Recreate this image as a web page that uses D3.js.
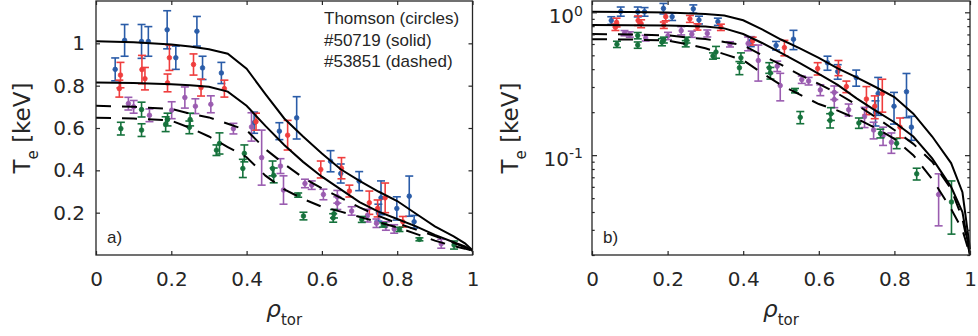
<!DOCTYPE html>
<html>
<head>
<meta charset="utf-8">
<script src="https://cdn.jsdelivr.net/npm/d3@7"></script>
<style>
body { margin: 0; background: #fff; }
text { fill: #262626; }
</style>
</head>
<body>
<script>
/*** THOMSON DATA (rho_tor, Te [keV], error) ***/
const rhoBlue = [0.051, 0.076, 0.121, 0.139, 0.189, 0.212, 0.268, 0.283, 0.333, 0.42, 0.487, 0.533, 0.623, 0.65, 0.699, 0.757, 0.75, 0.799, 0.832, 0.845];
const teBlue  = [0.877, 1.014, 1.009, 1.009, 1.064, 0.932, 1.057, 0.884, 0.86, 0.625, 0.585, 0.648, 0.443, 0.385, 0.349, 0.27, 0.2, 0.22, 0.278, 0.157];
const errBlue = [0.054, 0.075, 0.08, 0.07, 0.09, 0.055, 0.07, 0.055, 0.05, 0.05, 0.04, 0.1, 0.05, 0.045, 0.045, 0.08, 0.04, 0.055, 0.095, 0.03];

const rhoRed = [0.065, 0.062, 0.122, 0.13, 0.195, 0.19, 0.259, 0.279, 0.341, 0.425, 0.509, 0.597, 0.652, 0.673, 0.726, 0.748, 0.768, 0.815];
const teRed  = [0.85, 0.786, 0.876, 0.833, 0.932, 0.813, 0.9, 0.791, 0.786, 0.63, 0.566, 0.404, 0.41, 0.302, 0.247, 0.22, 0.27, 0.157];
const errRed = [0.06, 0.04, 0.067, 0.053, 0.06, 0.042, 0.05, 0.04, 0.04, 0.04, 0.07, 0.04, 0.05, 0.028, 0.055, 0.04, 0.07, 0.025];

const rhoPurple = [0.086, 0.1, 0.142, 0.201, 0.236, 0.264, 0.305, 0.365, 0.413, 0.44, 0.49, 0.498, 0.555, 0.573, 0.604, 0.641, 0.641, 0.679, 0.721, 0.745, 0.77, 0.792, 0.917];
const tePurple  = [0.715, 0.70, 0.66, 0.684, 0.744, 0.703, 0.712, 0.597, 0.605, 0.46, 0.42, 0.307, 0.338, 0.33, 0.286, 0.275, 0.245, 0.208, 0.186, 0.15, 0.137, 0.123, 0.053];
const errPurple = [0.03, 0.03, 0.03, 0.04, 0.05, 0.035, 0.04, 0.025, 0.067, 0.13, 0.035, 0.067, 0.02, 0.02, 0.025, 0.03, 0.03, 0.02, 0.03, 0.02, 0.02, 0.02, 0.021];

const rhoGreen = [0.066, 0.121, 0.121, 0.185, 0.19, 0.25, 0.248, 0.328, 0.32, 0.394, 0.39, 0.469, 0.472, 0.537, 0.551, 0.632, 0.63, 0.706, 0.763, 0.806, 0.859, 0.951];
const teGreen  = [0.597, 0.59, 0.687, 0.618, 0.64, 0.64, 0.603, 0.527, 0.495, 0.48, 0.409, 0.409, 0.376, 0.283, 0.184, 0.195, 0.175, 0.168, 0.142, 0.121, 0.074, 0.047];
const errGreen = [0.03, 0.03, 0.035, 0.035, 0.03, 0.03, 0.03, 0.05, 0.025, 0.04, 0.043, 0.035, 0.035, 0.01, 0.018, 0.02, 0.02, 0.014, 0.01, 0.01, 0.007, 0.019];

/*** MODELLED PROFILES ***/
const rhoCurve   = [0, 0.1, 0.2, 0.25, 0.3, 0.35, 0.4, 0.45, 0.5, 0.55, 0.6, 0.65, 0.7, 0.75, 0.8, 0.85, 0.9, 0.95, 0.98, 1];
const teSolidHi  = [1.01, 1.005, 0.995, 0.985, 0.972, 0.951, 0.88, 0.76, 0.645, 0.56, 0.48, 0.405, 0.35, 0.30, 0.255, 0.195, 0.135, 0.088, 0.055, 0.022];
const teSolidLo  = [0.815, 0.813, 0.807, 0.802, 0.795, 0.772, 0.705, 0.61, 0.52, 0.44, 0.37, 0.31, 0.25, 0.205, 0.17, 0.135, 0.095, 0.06, 0.04, 0.02];
const teDashHi   = [0.705, 0.70, 0.69, 0.668, 0.65, 0.62, 0.59, 0.50, 0.43, 0.365, 0.315, 0.27, 0.225, 0.185, 0.15, 0.12, 0.09, 0.058, 0.036, 0.02];
const teDashLo   = [0.648, 0.645, 0.635, 0.60, 0.56, 0.51, 0.462, 0.375, 0.31, 0.265, 0.228, 0.205, 0.18, 0.155, 0.13, 0.1, 0.068, 0.042, 0.03, 0.02];

/*** TICKS / TEXT ***/
const xTicks = [0, 0.2, 0.4, 0.6, 0.8, 1];
const yTicksLin = [0.2, 0.4, 0.6, 0.8, 1];
const yTicksLogMajor = [0.1, 1];
const yTicksLogMinor = [0.02, 0.03, 0.04, 0.05, 0.06, 0.07, 0.08, 0.09, 0.2, 0.3, 0.4, 0.5, 0.6, 0.7, 0.8, 0.9];
const legendLines = ["Thomson (circles)", "#50719 (solid)", "#53851 (dashed)"];

const series = [
    {rho: rhoBlue,   te: teBlue,   err: errBlue,   color: "#2a5ca8"},
    {rho: rhoRed,    te: teRed,    err: errRed,    color: "#ef3d3d"},
    {rho: rhoPurple, te: tePurple, err: errPurple, color: "#9a5cb0"},
    {rho: rhoGreen,  te: teGreen,  err: errGreen,  color: "#16723c"}
];
const curves = [
    {te: teSolidHi, dash: null},
    {te: teSolidLo, dash: null},
    {te: teDashHi,  dash: "15,11"},
    {te: teDashLo,  dash: "15,11"}
];

const svg = d3.select("body").append("svg")
    .attr("width", 978)
    .attr("height", 336);

const plotTop = 1, plotBottom = 255;
const axisFont = "'DejaVu Sans', sans-serif";

function drawPanel(left, right, logScale, tag, yLabelX, showLegend) {
    const g = svg.append("g");
    const x = d3.scaleLinear().domain([0, 1]).range([left, right]);
    const y = logScale
        ? d3.scaleLog().domain([0.02, 1.2]).range([plotBottom, plotTop])
        : d3.scaleLinear().domain([0, 1.2]).range([plotBottom, plotTop]);
    const yMin = y.domain()[0];

    // error bars + circles
    series.forEach(function (s) {
        const pts = d3.range(s.rho.length).map(i => ({rho: s.rho[i], te: s.te[i], err: s.err[i]}));
        const eb = g.append("g").attr("stroke", s.color).attr("stroke-width", 1.6).attr("fill", "none");
        pts.forEach(function (d) {
            const cx = x(d.rho);
            const yHi = y(d.te + d.err);
            const yLo = y(Math.max(d.te - d.err, yMin));
            eb.append("line").attr("x1", cx).attr("x2", cx).attr("y1", yHi).attr("y2", yLo);
            eb.append("line").attr("x1", cx - 4).attr("x2", cx + 4).attr("y1", yHi).attr("y2", yHi);
            eb.append("line").attr("x1", cx - 4).attr("x2", cx + 4).attr("y1", yLo).attr("y2", yLo);
        });
        g.append("g").selectAll("circle")
            .data(pts)
            .enter().append("circle")
            .attr("cx", d => x(d.rho))
            .attr("cy", d => y(d.te))
            .attr("r", 2.3)
            .attr("fill", s.color)
            .attr("stroke", s.color)
            .attr("stroke-width", 0.8);
    });

    // modelled profiles
    const line = d3.line().x(d => x(d[0])).y(d => y(Math.max(d[1], yMin)));
    curves.forEach(function (c) {
        g.append("path")
            .attr("d", line(d3.zip(rhoCurve, c.te)))
            .attr("fill", "none")
            .attr("stroke", "#000")
            .attr("stroke-width", 2)
            .attr("stroke-dasharray", c.dash);
    });

    // axes (ticks inside, box)
    const fmt = d => d3.format("~g")(d);
    g.append("g")
        .attr("transform", "translate(0," + plotBottom + ")")
        .call(d3.axisBottom(x).tickValues(xTicks).tickFormat(fmt).tickSize(-4).tickSizeOuter(0).tickPadding(17));
    g.append("g")
        .attr("transform", "translate(0," + plotTop + ")")
        .call(d3.axisTop(x).tickValues(xTicks).tickFormat("").tickSize(-4).tickSizeOuter(0));

    if (logScale) {
        const gy = g.append("g").attr("transform", "translate(" + left + ",0)")
            .call(d3.axisLeft(y).tickValues(yTicksLogMajor).tickSize(-5).tickSizeOuter(0).tickPadding(9));
        gy.selectAll(".tick text").each(function (d) {
            const t = d3.select(this);
            t.text("10").attr("dy", "0.52em");
            t.append("tspan").attr("dy", "-0.55em").attr("font-size", "14px").text(Math.round(Math.log10(d)));
        });
        g.append("g").attr("transform", "translate(" + left + ",0)")
            .call(d3.axisLeft(y).tickValues(yTicksLogMinor).tickFormat("").tickSize(-2.7).tickSizeOuter(0));
        g.append("g").attr("transform", "translate(" + right + ",0)")
            .call(d3.axisRight(y).tickValues(yTicksLogMajor).tickFormat("").tickSize(-5).tickSizeOuter(0));
        g.append("g").attr("transform", "translate(" + right + ",0)")
            .call(d3.axisRight(y).tickValues(yTicksLogMinor).tickFormat("").tickSize(-2.7).tickSizeOuter(0));
    } else {
        g.append("g").attr("transform", "translate(" + left + ",0)")
            .call(d3.axisLeft(y).tickValues(yTicksLin).tickFormat(fmt).tickSize(-4).tickSizeOuter(0).tickPadding(11));
        g.append("g").attr("transform", "translate(" + right + ",0)")
            .call(d3.axisRight(y).tickValues(yTicksLin).tickFormat("").tickSize(-4).tickSizeOuter(0));
    }
    g.selectAll(".domain").remove();
    g.selectAll(".tick line").attr("stroke", "#262626").attr("stroke-width", 1.2);
    g.selectAll(".tick text").attr("font-family", axisFont).attr("font-size", "20px").attr("fill", "#262626");

    g.append("rect")
        .attr("x", left).attr("y", plotTop)
        .attr("width", right - left).attr("height", plotBottom - plotTop)
        .attr("fill", "none").attr("stroke", "#262626").attr("stroke-width", 1.3);

    // axis labels
    const xl = g.append("text")
        .attr("x", (left + right) / 2).attr("y", 317)
        .attr("text-anchor", "middle")
        .attr("font-family", axisFont).attr("font-size", "23px");
    xl.append("tspan").attr("font-style", "italic").text("\u03c1");
    xl.append("tspan").attr("dy", "8px").attr("font-size", "15px").text("tor");

    const yl = g.append("text")
        .attr("transform", "translate(" + yLabelX + "," + (plotBottom + plotTop) / 2 + ") rotate(-90)")
        .attr("text-anchor", "middle")
        .attr("font-family", axisFont).attr("font-size", "23px");
    yl.append("tspan").text("T");
    yl.append("tspan").attr("dy", "8px").attr("font-size", "15px").text("e");
    yl.append("tspan").attr("dy", "-8px").text(" [keV]");

    g.append("text")
        .attr("x", left + 11).attr("y", 243)
        .attr("font-family", "'Liberation Sans', Arial, sans-serif").attr("font-size", "17px")
        .text(tag);

    if (showLegend) {
        g.selectAll(".legend")
            .data(legendLines)
            .enter().append("text")
            .attr("x", 324)
            .attr("y", (d, i) => 24 + i * 21.6)
            .attr("font-family", "'Liberation Sans', Arial, sans-serif")
            .attr("font-size", "17px")
            .text(d => d);
    }
}

drawPanel(96, 472.5, false, "a)", 30, true);
drawPanel(592, 970, true, "b)", 518, false);
</script>
</body>
</html>
